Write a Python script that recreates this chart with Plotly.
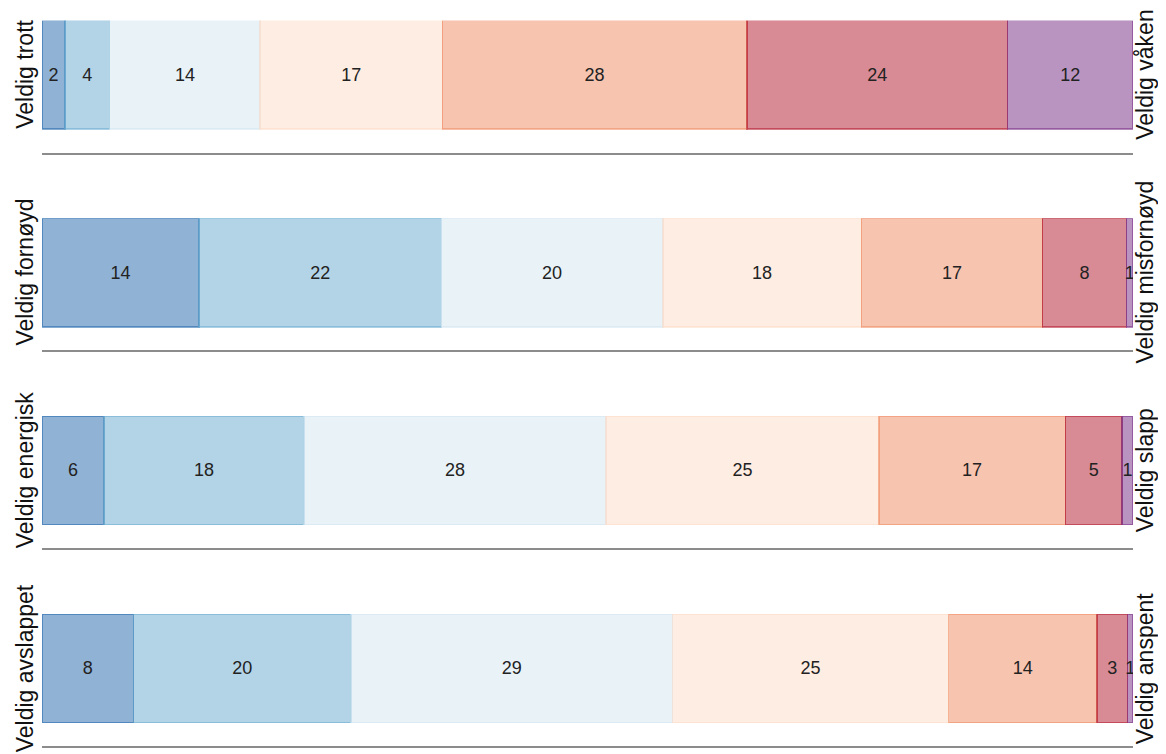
import plotly.graph_objects as go
from plotly.subplots import make_subplots

# Data: share per answer option and the printed labels
left_labels = ["Veldig trott", "Veldig fornøyd", "Veldig energisk", "Veldig avslappet"]
right_labels = ["Veldig våken", "Veldig misfornøyd", "Veldig slapp", "Veldig anspent"]

shares_trott = [2.1, 4.1, 13.8, 16.7, 27.9, 23.9, 11.5]
shares_fornoyd = [14.4, 22.2, 20.3, 18.2, 16.6, 7.7, 0.6]
shares_energisk = [5.7, 18.3, 27.7, 25.0, 17.1, 5.2, 1.0]
shares_avslappet = [8.4, 19.9, 29.5, 25.3, 13.6, 2.8, 0.5]

labels_trott = [2, 4, 14, 17, 28, 24, 12]
labels_fornoyd = [14, 22, 20, 18, 17, 8, 1]
labels_energisk = [6, 18, 28, 25, 17, 5, 1]
labels_avslappet = [8, 20, 29, 25, 14, 3, 1]

rows = [
    (shares_trott, labels_trott),
    (shares_fornoyd, labels_fornoyd),
    (shares_energisk, labels_energisk),
    (shares_avslappet, labels_avslappet),
]

BASE_COLORS = ["#2166ac", "#67a9cf", "#d1e5f0", "#fddbc7", "#ef8a62", "#b2182b", "#762a83"]


def rgba(hex_color, alpha):
    h = hex_color.lstrip("#")
    r, g, b = int(h[0:2], 16), int(h[2:4], 16), int(h[4:6], 16)
    return f"rgba({r},{g},{b},{alpha})"


# the page body has an 8px margin, so the figure is laid out 8px in from the window corner
PAGE_OFF = 8
W, H = 1166 - PAGE_OFF, 754 - PAGE_OFF
PLOT_L, PLOT_R = 42 - PAGE_OFF, 1133 - PAGE_OFF
BAR_TOPS = [t - PAGE_OFF for t in (20.5, 218.3, 416, 614)]
BAR_H = 108.5
AXIS_GAP = 23.5
LEFT_LABEL_X = 25 - PAGE_OFF
RIGHT_LABEL_X = 1145 - PAGE_OFF

fig = make_subplots(rows=4, cols=1)

for i, (shares, labels) in enumerate(rows, start=1):
    for j, (val, lab) in enumerate(zip(shares, labels)):
        fig.add_trace(
            go.Bar(
                x=[val],
                y=[0],
                width=1,
                orientation="h",
                text=[str(lab)],
                textposition="inside",
                insidetextanchor="middle",
                textangle=0,
                textfont=dict(color="#222222", size=18),
                marker=dict(
                    color=rgba(BASE_COLORS[j], 0.5),
                    line=dict(color=rgba(BASE_COLORS[j], 0.55), width=1.5),
                ),
                showlegend=False,
                hoverinfo="skip",
            ),
            row=i,
            col=1,
        )

annotations = []
for i in range(4):
    top = BAR_TOPS[i]
    bottom = top + BAR_H + AXIS_GAP
    ax = "" if i == 0 else str(i + 1)
    fig.layout[f"yaxis{ax}"].update(
        domain=[1 - bottom / H, 1 - top / H],
        range=[-0.5 - AXIS_GAP / BAR_H, 0.5],
        visible=False,
        fixedrange=True,
    )
    fig.layout[f"xaxis{ax}"].update(
        domain=[0, 1],
        range=[0, 100],
        showline=True,
        linecolor="#8c8c8c",
        linewidth=2,
        showgrid=False,
        zeroline=False,
        showticklabels=False,
        ticks="",
    )
    annotations.append(dict(
        text=left_labels[i], xref="paper", yref=f"y{ax}",
        x=(LEFT_LABEL_X - PLOT_L) / (PLOT_R - PLOT_L), y=0,
        xanchor="center", yanchor="middle", textangle=-90, showarrow=False,
        font=dict(size=23, color="#111111"),
    ))
    annotations.append(dict(
        text=right_labels[i], xref="paper", yref=f"y{ax}",
        x=(RIGHT_LABEL_X - PLOT_L) / (PLOT_R - PLOT_L), y=0,
        xanchor="center", yanchor="middle", textangle=-90, showarrow=False,
        font=dict(size=23, color="#111111"),
    ))

fig.update_layout(
    width=W,
    height=H,
    barmode="stack",
    plot_bgcolor="white",
    paper_bgcolor="white",
    font=dict(family="Arial, Liberation Sans, sans-serif"),
    margin=dict(l=PLOT_L, r=W - PLOT_R, t=0, b=0),
    uniformtext=dict(minsize=18, mode="show"),
    annotations=annotations,
)

fig.write_html("out.html")
